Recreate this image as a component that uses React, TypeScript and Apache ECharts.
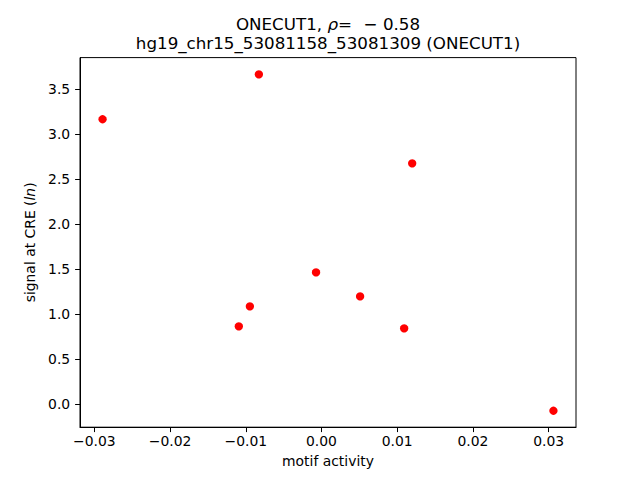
import React, { useEffect, useRef } from "react";
import * as echarts from "echarts";

const motifActivity = [-0.02892, -0.00827, 0.01198, -0.00072, 0.0051, -0.00946, -0.01092, 0.01092, 0.03064];
const signal = [3.167, 3.667, 2.677, 1.464, 1.197, 1.086, 0.864, 0.842, -0.075];
const xTicks = [-0.03, -0.02, -0.01, 0.0, 0.01, 0.02, 0.03];
const yTicks = [0.0, 0.5, 1.0, 1.5, 2.0, 2.5, 3.0, 3.5];
const titleLine1 = ["ONECUT1, ", "ρ", "=\u2002\u2009− 0.58"];
const titleLine2 = "hg19_chr15_53081158_53081309 (ONECUT1)";

const FONT = "DejaVu Sans";

function fmt(v: number, d: number) {
  const s = Math.abs(v).toFixed(d);
  return (v < 0 && Number(s) !== 0 ? "−" : "") + s;
}

export default function App() {
  const ref = useRef<HTMLDivElement>(null);
  useEffect(() => {
    if (!ref.current) return;
    const chart = echarts.init(ref.current, null, { renderer: "svg" });
    const points = motifActivity.map((x, i) => [x, signal[i]]);
    chart.setOption({
      animation: false,
      backgroundColor: "#ffffff",
      textStyle: { fontFamily: FONT },
      grid: {
        left: 80,
        right: 64,
        top: 57.6,
        bottom: 52.8,
        show: true,
        borderColor: "#000000",
        borderWidth: 1,
        backgroundColor: "transparent",
      },
      graphic: [
        {
          type: "text",
          x: 328,
          y: 23.7,
          style: {
            text: `${titleLine1[0]}{i|${titleLine1[1]}}${titleLine1[2]}`,
            fontFamily: FONT,
            fontSize: 16.7,
            fill: "#000",
            align: "center",
            verticalAlign: "middle",
            rich: {
              i: { fontStyle: "italic", fontFamily: FONT, fontSize: 16.7, fill: "#000" },
            },
          },
        },
        {
          type: "text",
          x: 328,
          y: 42.7,
          style: {
            text: titleLine2,
            fontFamily: FONT,
            fontSize: 16.7,
            fill: "#000",
            align: "center",
            verticalAlign: "middle",
          },
        },
      ],
      xAxis: {
        type: "value",
        min: -0.0319,
        max: 0.03362,
        name: "motif activity",
        nameLocation: "middle",
        nameGap: 27,
        nameTextStyle: { fontFamily: FONT, fontSize: 13.9, color: "#000", verticalAlign: "top" },
        splitLine: { show: false },
        axisLine: { show: true, onZero: false, lineStyle: { color: "#000", width: 1 } },
        axisTick: {
          show: true,
          length: 4.9,
          inside: false,
          lineStyle: { color: "#000", width: 1 },
          customValues: xTicks,
        },
        axisLabel: {
          show: true,
          margin: 7,
          fontFamily: FONT,
          fontSize: 13.9,
          color: "#000",
          customValues: xTicks,
          formatter: (v: number) => fmt(v, 2),
        },
      },
      yAxis: {
        type: "value",
        min: -0.258,
        max: 3.853,
        name: "signal at CRE ({i|ln})",
        nameLocation: "middle",
        nameGap: 40,
        nameRotate: 90,
        nameTextStyle: {
          fontFamily: FONT,
          fontSize: 13.9,
          color: "#000",
          rich: { i: { fontStyle: "italic", fontFamily: FONT, fontSize: 13.9, color: "#000" } },
        },
        splitLine: { show: false },
        axisLine: { show: true, onZero: false, lineStyle: { color: "#000", width: 1 } },
        axisTick: {
          show: true,
          length: 4.9,
          inside: false,
          lineStyle: { color: "#000", width: 1 },
          customValues: yTicks,
        },
        axisLabel: {
          show: true,
          margin: 9.8,
          fontFamily: FONT,
          fontSize: 13.9,
          color: "#000",
          customValues: yTicks,
          formatter: (v: number) => fmt(v, 1),
        },
      },
      series: [
        {
          type: "scatter",
          data: points,
          symbol: "circle",
          symbolSize: 8.3,
          itemStyle: { color: "#ff0000", opacity: 1 },
          emphasis: { disabled: true },
        },
      ],
    });
    return () => chart.dispose();
  }, []);
  return <div ref={ref} style={{ width: 640, height: 480, position: "absolute", left: 0, top: 0 }} />;
}
